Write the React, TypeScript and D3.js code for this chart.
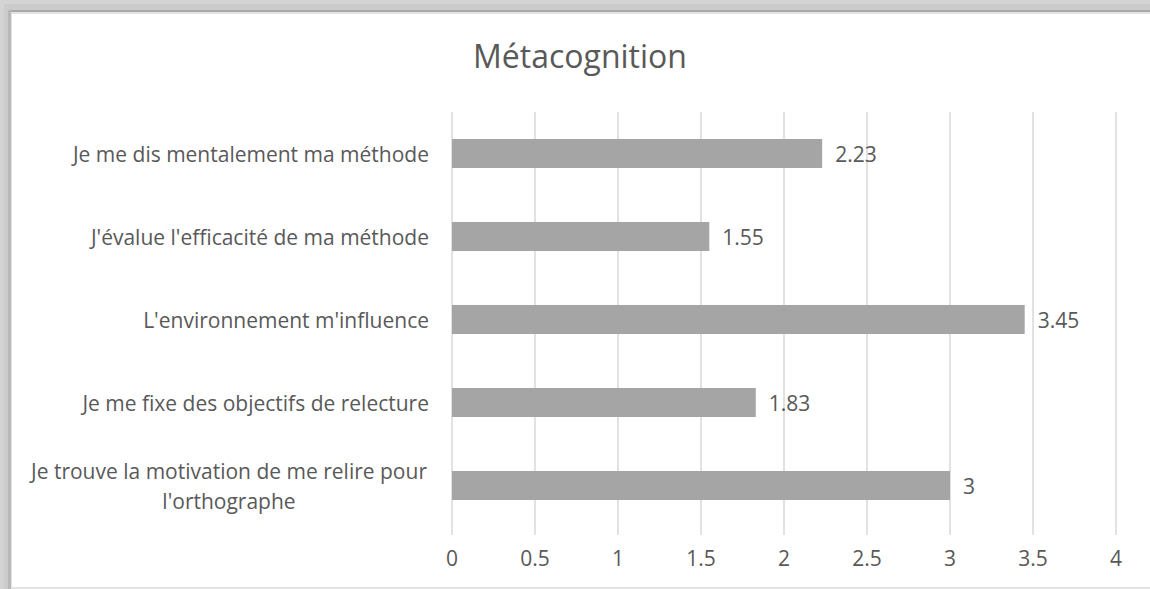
import React from "react";
import { scaleLinear, scaleBand } from "d3";

const categories = [
  "Je me dis mentalement ma méthode",
  "J'évalue l'efficacité de ma méthode",
  "L'environnement m'influence",
  "Je me fixe des objectifs de relecture",
  "Je trouve la motivation de me relire pour l'orthographe",
];
const values = [2.23, 1.55, 3.45, 1.83, 3];
const ticks = [0, 0.5, 1, 1.5, 2, 2.5, 3, 3.5, 4];
const title = "Métacognition";

// wrapped label lines (Excel wraps the long one)
const labelLines = [
  ["Je me dis mentalement ma méthode"],
  ["J'évalue l'efficacité de ma méthode"],
  ["L'environnement m'influence"],
  ["Je me fixe des objectifs de relecture"],
  ["Je trouve la motivation de me relire pour", "l'orthographe"],
];

const W = 1150;
const H = 589;
const FONT = "'Open Sans', 'Noto Sans', sans-serif";
const TXT = "#595959";

export default function App() {
  const x = scaleLinear().domain([0, 4]).range([452, 1116]);
  const y = scaleBand<string>()
    .domain(categories)
    .range([112, 527])
    .paddingInner(0.65)
    .paddingOuter(0.325);

  return (
    <div style={{ position: "fixed", left: 0, top: 0 }}>
      <svg width={W} height={H} style={{ display: "block" }}>
        {/* frame / shadow */}
        <rect x={0} y={0} width={W} height={H} fill="#d4d4d4" />
        <rect x={4} y={4} width={W} height={H} fill="#cccccc" />
        <rect x={8} y={10} width={W} height={2} fill="#a9a9a9" />
        <rect x={8} y={10} width={3} height={H} fill="#b8b8b8" />
        <rect x={11} y={12} width={W} height={H} fill="#e3e3e3" />
        <rect x={12} y={14} width={W} height={573} fill="#ffffff" />

        <text x={580} y={68} textAnchor="middle" fontFamily={FONT} fontSize={32} fill={TXT}>
          {title}
        </text>

        {ticks.map((t) => (
          <line key={t} x1={x(t)} x2={x(t)} y1={112} y2={535} stroke="#d9d9d9" strokeWidth={1.5} />
        ))}

        {categories.map((c, i) => (
          <rect
            key={c}
            x={x(0)}
            y={y(c)}
            width={x(values[i]) - x(0)}
            height={y.bandwidth()}
            fill="#a5a5a5"
          />
        ))}

        {categories.map((c, i) => (
          <text
            key={c}
            x={x(values[i]) + 13}
            y={(y(c) as number) + y.bandwidth() / 2 + 8}
            fontFamily={FONT}
            fontSize={21}
            fill={TXT}
          >
            {String(values[i])}
          </text>
        ))}

        {categories.map((c, i) => {
          const lines = labelLines[i];
          const cy = (y(c) as number) + y.bandwidth() / 2;
          const lh = 30;
          const y0 = cy - ((lines.length - 1) * lh) / 2 + 8;
          if (lines.length === 1) {
            return (
              <text key={c} x={429} y={y0} textAnchor="end" fontFamily={FONT} fontSize={21} fill={TXT}>
                {lines[0]}
              </text>
            );
          }
          return (
            <text key={c} x={229} y={y0} textAnchor="middle" fontFamily={FONT} fontSize={21} fill={TXT}>
              {lines.map((l, k) => (
                <tspan key={k} x={229} y={y0 + k * lh}>
                  {l}
                </tspan>
              ))}
            </text>
          );
        })}

        {ticks.map((t) => (
          <text key={t} x={x(t)} y={566} textAnchor="middle" fontFamily={FONT} fontSize={21} fill={TXT}>
            {String(t)}
          </text>
        ))}
      </svg>
    </div>
  );
}
